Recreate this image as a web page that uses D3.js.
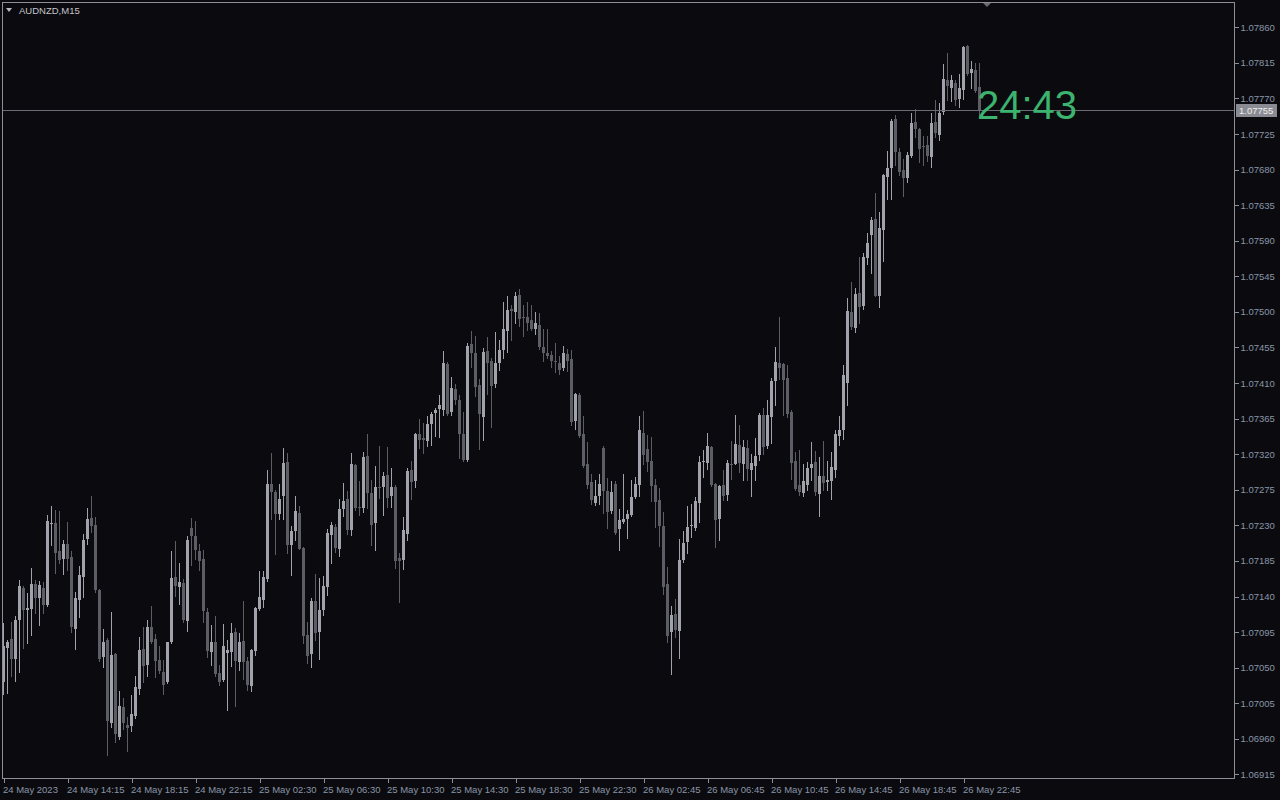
<!DOCTYPE html>
<html><head><meta charset="utf-8">
<script src="https://cdn.jsdelivr.net/npm/d3@7"></script>
<style>
html,body{margin:0;padding:0;background:#0b0b0f;}
svg{display:block;}
text{font-family:"Liberation Sans",Arial,sans-serif;}
</style></head>
<body>
<svg id="c" width="1280" height="800"></svg>
<script>
const symbol = "AUDNZD,M15";
const clockText = "24:43";
const bid = 1.07755;
const priceTicks = [1.06915,1.06960,1.07005,1.07050,1.07095,1.07140,1.07185,1.07230,1.07275,1.07320,1.07365,1.07410,1.07455,1.07500,1.07545,1.07590,1.07635,1.07680,1.07725,1.07770,1.07815,1.07860];
const timeLabels = ["24 May 2023","24 May 14:15","24 May 18:15","24 May 22:15","25 May 02:30","25 May 06:30","25 May 10:30","25 May 14:30","25 May 18:30","25 May 22:30","26 May 02:45","26 May 06:45","26 May 10:45","26 May 14:45","26 May 18:45","26 May 22:45"];
const timeTickBars = [0,16,32,48,64,80,96,112,128,144,160,176,192,208,224,240];

const opens = [1.07031,1.07074,1.07086,1.07061,1.07110,1.07151,1.07122,1.07125,1.07156,1.07138,1.07151,1.07129,1.07232,1.07233,1.07198,1.07187,1.07206,1.07190,1.07099,1.07135,
1.07165,1.07213,1.07239,1.07230,1.07148,1.07064,1.07085,1.06980,1.07067,1.06962,1.07000,1.06977,1.06976,1.06988,1.07023,1.07073,1.07053,1.07102,1.07086,1.07060,
1.07044,1.07031,1.07082,1.07165,1.07152,1.07157,1.07110,1.07227,1.07217,1.07198,1.07188,1.07120,1.07069,1.07082,1.07043,1.07034,1.07068,1.07070,1.07095,1.07057,
1.07084,1.07058,1.07027,1.07071,1.07124,1.07136,1.07162,1.07282,1.07272,1.07244,1.07267,1.07310,1.07205,1.07223,1.07246,1.07201,1.07091,1.07067,1.07134,1.07095,
1.07123,1.07152,1.07218,1.07228,1.07200,1.07251,1.07263,1.07224,1.07306,1.07253,1.07253,1.07318,1.07271,1.07233,1.07279,1.07278,1.07294,1.07267,1.07279,1.07189,
1.07186,1.07219,1.07300,1.07286,1.07346,1.07341,1.07336,1.07358,1.07372,1.07377,1.07377,1.07434,1.07374,1.07403,1.07389,1.07346,1.07313,1.07460,1.07448,1.07408,
1.07367,1.07451,1.07438,1.07409,1.07436,1.07453,1.07477,1.07504,1.07500,1.07522,1.07493,1.07494,1.07490,1.07479,1.07484,1.07456,1.07448,1.07446,1.07438,1.07436,
1.07429,1.07447,1.07441,1.07362,1.07395,1.07346,1.07308,1.07285,1.07258,1.07267,1.07328,1.07274,1.07248,1.07282,1.07226,1.07234,1.07238,1.07243,1.07266,1.07281,
1.07347,1.07327,1.07312,1.07281,1.07262,1.07229,1.07156,1.07095,1.07118,1.07096,1.07186,1.07209,1.07229,1.07227,1.07258,1.07311,1.07310,1.07329,1.07282,1.07238,
1.07281,1.07269,1.07307,1.07308,1.07332,1.07308,1.07328,1.07300,1.07305,1.07318,1.07369,1.07331,1.07367,1.07413,1.07436,1.07434,1.07417,1.07374,1.07312,1.07281,
1.07271,1.07282,1.07303,1.07310,1.07270,1.07293,1.07285,1.07286,1.07301,1.07343,1.07351,1.07410,1.07500,1.07480,1.07524,1.07508,1.07568,1.07597,1.07618,1.07520,
1.07604,1.07670,1.07682,1.07744,1.07702,1.07680,1.07670,1.07697,1.07740,1.07731,1.07710,1.07711,1.07696,1.07740,1.07724,1.07753,1.07793,1.07783,1.07790,1.07769,
1.07781,1.07836,1.07802,1.07806,1.07785];
const highs = [1.07106,1.07085,1.07108,1.07115,1.07161,1.07153,1.07144,1.07176,1.07161,1.07159,1.07158,1.07243,1.07254,1.07249,1.07248,1.07211,1.07234,1.07197,1.07146,1.07179,
1.07219,1.07252,1.07267,1.07240,1.07150,1.07099,1.07087,1.07120,1.07069,1.07021,1.07012,1.06987,1.07015,1.07039,1.07089,1.07101,1.07110,1.07128,1.07092,1.07077,
1.07060,1.07083,1.07198,1.07210,1.07182,1.07162,1.07217,1.07239,1.07235,1.07207,1.07199,1.07126,1.07104,1.07115,1.07053,1.07105,1.07085,1.07107,1.07100,1.07094,
1.07134,1.07063,1.07074,1.07127,1.07172,1.07172,1.07300,1.07322,1.07275,1.07282,1.07328,1.07322,1.07229,1.07267,1.07254,1.07203,1.07108,1.07138,1.07169,1.07163,
1.07166,1.07225,1.07234,1.07232,1.07263,1.07284,1.07274,1.07322,1.07308,1.07286,1.07323,1.07346,1.07287,1.07305,1.07330,1.07298,1.07329,1.07303,1.07281,1.07195,
1.07241,1.07303,1.07312,1.07347,1.07365,1.07360,1.07368,1.07374,1.07379,1.07395,1.07451,1.07437,1.07418,1.07409,1.07395,1.07373,1.07461,1.07476,1.07470,1.07415,
1.07454,1.07468,1.07442,1.07475,1.07465,1.07513,1.07520,1.07509,1.07525,1.07529,1.07509,1.07513,1.07509,1.07500,1.07498,1.07479,1.07479,1.07451,1.07461,1.07444,
1.07457,1.07453,1.07452,1.07398,1.07397,1.07368,1.07336,1.07295,1.07287,1.07295,1.07330,1.07290,1.07286,1.07286,1.07251,1.07295,1.07250,1.07287,1.07291,1.07368,
1.07375,1.07344,1.07342,1.07289,1.07277,1.07247,1.07177,1.07128,1.07137,1.07213,1.07223,1.07255,1.07257,1.07266,1.07318,1.07325,1.07347,1.07331,1.07284,1.07281,
1.07300,1.07313,1.07337,1.07369,1.07357,1.07338,1.07338,1.07320,1.07341,1.07372,1.07379,1.07389,1.07417,1.07455,1.07494,1.07435,1.07433,1.07376,1.07323,1.07325,
1.07307,1.07310,1.07336,1.07324,1.07317,1.07337,1.07312,1.07323,1.07350,1.07368,1.07433,1.07518,1.07538,1.07530,1.07570,1.07575,1.07600,1.07620,1.07651,1.07627,
1.07675,1.07704,1.07744,1.07749,1.07707,1.07694,1.07702,1.07752,1.07757,1.07733,1.07723,1.07723,1.07752,1.07768,1.07764,1.07814,1.07828,1.07800,1.07793,1.07801,
1.07836,1.07838,1.07817,1.07815,1.07815];
const lows = [1.07017,1.07018,1.07039,1.07033,1.07044,1.07075,1.07081,1.07091,1.07119,1.07104,1.07119,1.07128,1.07205,1.07170,1.07182,1.07168,1.07174,1.07095,1.07073,1.07114,
1.07139,1.07207,1.07222,1.07146,1.07059,1.07051,1.06940,1.06975,1.06956,1.06960,1.06972,1.06945,1.06970,1.06986,1.07017,1.07032,1.07039,1.07081,1.07038,1.07043,
1.07017,1.07030,1.07081,1.07141,1.07131,1.07108,1.07096,1.07180,1.07187,1.07173,1.07108,1.07064,1.07054,1.07040,1.07028,1.07033,1.06996,1.07052,1.07001,1.07047,
1.07036,1.07022,1.07020,1.07066,1.07123,1.07127,1.07159,1.07238,1.07194,1.07238,1.07238,1.07195,1.07167,1.07211,1.07200,1.07081,1.07056,1.07051,1.07085,1.07061,
1.07117,1.07142,1.07182,1.07196,1.07191,1.07242,1.07219,1.07218,1.07249,1.07243,1.07247,1.07252,1.07205,1.07199,1.07265,1.07243,1.07253,1.07253,1.07176,1.07133,
1.07175,1.07212,1.07263,1.07279,1.07328,1.07322,1.07330,1.07332,1.07343,1.07342,1.07370,1.07370,1.07370,1.07384,1.07315,1.07312,1.07311,1.07430,1.07394,1.07327,
1.07338,1.07396,1.07354,1.07405,1.07427,1.07442,1.07449,1.07465,1.07486,1.07482,1.07470,1.07477,1.07477,1.07472,1.07453,1.07438,1.07442,1.07430,1.07424,1.07422,
1.07426,1.07425,1.07357,1.07352,1.07342,1.07304,1.07277,1.07257,1.07256,1.07257,1.07246,1.07227,1.07246,1.07219,1.07199,1.07233,1.07214,1.07242,1.07265,1.07267,
1.07308,1.07299,1.07261,1.07228,1.07204,1.07143,1.07083,1.07042,1.07089,1.07062,1.07184,1.07195,1.07215,1.07224,1.07234,1.07291,1.07301,1.07280,1.07203,1.07212,
1.07262,1.07262,1.07289,1.07307,1.07298,1.07288,1.07288,1.07267,1.07288,1.07313,1.07320,1.07328,1.07334,1.07382,1.07415,1.07369,1.07367,1.07289,1.07275,1.07269,
1.07267,1.07275,1.07288,1.07269,1.07242,1.07275,1.07275,1.07263,1.07291,1.07332,1.07339,1.07382,1.07479,1.07475,1.07486,1.07504,1.07560,1.07549,1.07520,1.07506,
1.07565,1.07643,1.07643,1.07686,1.07673,1.07647,1.07664,1.07696,1.07721,1.07690,1.07686,1.07691,1.07683,1.07721,1.07718,1.07750,1.07768,1.07767,1.07762,1.07759,
1.07769,1.07800,1.07783,1.07778,1.07749];
const closes = [1.07077,1.07082,1.07061,1.07110,1.07153,1.07123,1.07125,1.07156,1.07138,1.07154,1.07130,1.07235,1.07233,1.07195,1.07186,1.07206,1.07187,1.07101,1.07138,1.07167,
1.07212,1.07238,1.07229,1.07148,1.07061,1.07083,1.06983,1.07066,1.06966,1.07001,1.06980,1.06973,1.06991,1.07025,1.07072,1.07052,1.07101,1.07083,1.07058,1.07046,
1.07027,1.07082,1.07163,1.07154,1.07158,1.07110,1.07212,1.07217,1.07199,1.07185,1.07122,1.07071,1.07082,1.07042,1.07031,1.07077,1.07072,1.07094,1.07058,1.07082,
1.07058,1.07028,1.07072,1.07126,1.07139,1.07165,1.07282,1.07272,1.07244,1.07263,1.07309,1.07205,1.07223,1.07248,1.07201,1.07090,1.07065,1.07134,1.07093,1.07123,
1.07153,1.07220,1.07231,1.07201,1.07251,1.07261,1.07224,1.07308,1.07251,1.07252,1.07317,1.07271,1.07231,1.07279,1.07278,1.07292,1.07265,1.07279,1.07186,1.07185,
1.07224,1.07299,1.07285,1.07346,1.07339,1.07338,1.07358,1.07371,1.07376,1.07382,1.07436,1.07371,1.07404,1.07389,1.07346,1.07313,1.07457,1.07448,1.07405,1.07371,
1.07449,1.07436,1.07406,1.07436,1.07452,1.07479,1.07503,1.07501,1.07520,1.07492,1.07492,1.07487,1.07479,1.07486,1.07456,1.07448,1.07444,1.07439,1.07437,1.07427,
1.07448,1.07438,1.07361,1.07396,1.07343,1.07305,1.07281,1.07262,1.07267,1.07282,1.07274,1.07247,1.07272,1.07220,1.07237,1.07238,1.07244,1.07266,1.07282,1.07351,
1.07319,1.07310,1.07281,1.07260,1.07229,1.07152,1.07090,1.07117,1.07098,1.07186,1.07208,1.07228,1.07230,1.07261,1.07310,1.07312,1.07331,1.07281,1.07237,1.07280,
1.07267,1.07309,1.07306,1.07333,1.07309,1.07329,1.07301,1.07309,1.07318,1.07369,1.07329,1.07370,1.07413,1.07437,1.07430,1.07414,1.07372,1.07309,1.07277,1.07272,
1.07286,1.07303,1.07308,1.07272,1.07293,1.07284,1.07288,1.07304,1.07346,1.07351,1.07420,1.07501,1.07481,1.07523,1.07506,1.07570,1.07587,1.07616,1.07521,1.07606,
1.07673,1.07682,1.07742,1.07702,1.07677,1.07670,1.07699,1.07739,1.07731,1.07706,1.07709,1.07697,1.07739,1.07726,1.07752,1.07795,1.07785,1.07793,1.07768,1.07783,
1.07835,1.07801,1.07807,1.07779,1.07755];

const W = 1280, H = 800;
const frame = {left: 2.5, top: 2.5, right: 1234.5, bottom: 778.5};
const bullColor = "#a2a2ad", bearColor = "#5d5d65";
const axisColor = "#8e8e96", labelColor = "#8a95a8";

const svg = d3.select("#c");
svg.append("rect").attr("width", W).attr("height", H).attr("fill", "#0b0b0f");

const N = opens.length;
const x = d3.scaleLinear().domain([0, N - 1]).range([3.5, 3.5 + 4 * (N - 1)]);
const y = d3.scaleLinear().domain([1.06915, 1.07860]).range([774.4, 27.3]);

const plot = svg.append("g").attr("shape-rendering", "crispEdges");
const idx = d3.range(N);
const col = i => closes[i] >= opens[i] ? bullColor : bearColor;

plot.selectAll("line.wick").data(idx).join("line")
  .attr("class", "wick")
  .attr("x1", i => x(i)).attr("x2", i => x(i))
  .attr("y1", i => Math.round(y(highs[i])))
  .attr("y2", i => Math.round(y(lows[i])) + 1)
  .attr("stroke", col).attr("stroke-width", 1);

plot.selectAll("rect.body").data(idx).join("rect")
  .attr("class", "body")
  .attr("x", i => x(i) - 1.5)
  .attr("width", 3)
  .attr("y", i => Math.round(y(Math.max(opens[i], closes[i]))))
  .attr("height", i => Math.max(1, Math.round(Math.abs(y(opens[i]) - y(closes[i])))))
  .attr("fill", col);

// bid line
svg.append("line").attr("shape-rendering", "crispEdges")
  .attr("x1", frame.left).attr("x2", frame.right)
  .attr("y1", Math.round(y(bid)) + 0.5).attr("y2", Math.round(y(bid)) + 0.5)
  .attr("stroke", "#6c6c74").attr("stroke-width", 1);

// frame
svg.append("rect").attr("shape-rendering", "crispEdges")
  .attr("x", frame.left).attr("y", frame.top)
  .attr("width", frame.right - frame.left).attr("height", frame.bottom - frame.top)
  .attr("fill", "none").attr("stroke", axisColor).attr("stroke-width", 1);

// right axis
const ay = svg.append("g").attr("transform", `translate(${frame.right},0)`)
  .call(d3.axisRight(y).tickValues(priceTicks).tickFormat(d3.format(".5f")).tickSize(4).tickPadding(2));
ay.select(".domain").remove();
ay.selectAll("line").attr("stroke", axisColor).attr("shape-rendering", "crispEdges");
ay.selectAll("text").attr("fill", labelColor).attr("font-size", "9.5px")
  .attr("font-family", '"Liberation Sans", Arial, sans-serif');

// bottom axis
const ax = svg.append("g").attr("transform", `translate(0,${frame.bottom})`)
  .call(d3.axisBottom(x).tickValues(timeTickBars).tickFormat((d, i) => timeLabels[i]).tickSize(4).tickPadding(2));
ax.select(".domain").remove();
ax.selectAll("line").attr("stroke", axisColor).attr("shape-rendering", "crispEdges");
ax.selectAll("text").attr("fill", labelColor).attr("font-size", "9.5px")
  .attr("font-family", '"Liberation Sans", Arial, sans-serif')
  .attr("text-anchor", "start").attr("x", -1).attr("dy", "0.85em");

// bid label box
const by = Math.round(y(bid));
svg.append("rect").attr("x", 1236).attr("y", by - 6).attr("width", 41).attr("height", 13)
  .attr("fill", "#8a8a92");
svg.append("text").attr("x", 1239).attr("y", by + 4)
  .attr("font-size", "9.5px").attr("fill", "#f0f0f0").text(d3.format(".5f")(bid));

// clock
svg.append("text").attr("x", 977).attr("y", 119)
  .attr("font-size", "40px").attr("fill", "#3cb36e").text(clockText);

// title
svg.append("path").attr("d", "M6,8 L12,8 L9,12 Z").attr("fill", "#b8b8be");
svg.append("text").attr("x", 19).attr("y", 14).attr("font-size", "9.5px").attr("fill", "#c4c4ca").text(symbol);

// shift marker
svg.append("path").attr("d", "M983,3 L991,3 L987,7 Z").attr("fill", "#6a6a72");
</script>
</body></html>
